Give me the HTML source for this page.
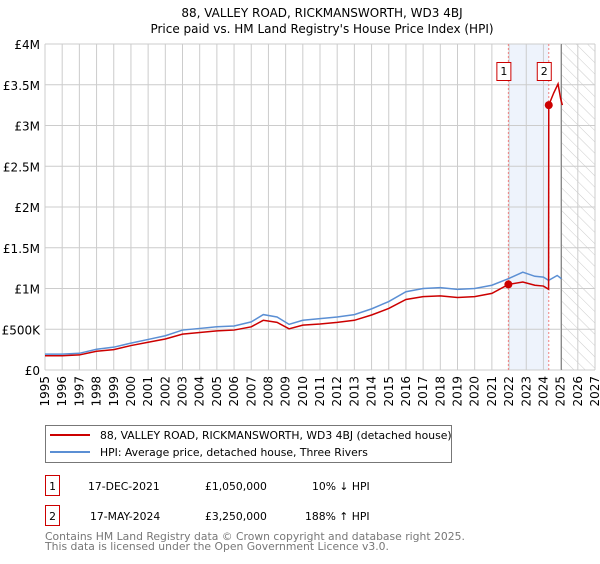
<!DOCTYPE html>
<html><head><meta charset="utf-8"><style>
body{margin:0;background:#fff;font-family:"DejaVu Sans","Liberation Sans",sans-serif;}
svg text{font-family:"DejaVu Sans","Liberation Sans",sans-serif;}
</style></head><body>
<svg id="c" width="600" height="560" xmlns="http://www.w3.org/2000/svg">
<defs><pattern id="h" width="8" height="8" patternUnits="userSpaceOnUse" patternTransform="rotate(-45)"><line x1="0" y1="0" x2="0" y2="8" stroke="#ccc" stroke-width="1"/></pattern></defs>
<text x="322" y="17" text-anchor="middle" font-size="12">88, VALLEY ROAD, RICKMANSWORTH, WD3 4BJ</text>
<text x="322" y="33" text-anchor="middle" font-size="12">Price paid vs. HM Land Registry's House Price Index (HPI)</text>
<g id="grid"></g><g id="marks"></g><g id="axes"></g>
<rect x="45.5" y="425.5" width="406" height="37" fill="#fff" stroke="#777"/>
<line x1="50" y1="435" x2="90" y2="435" stroke="#cc0000" stroke-width="2"/>
<text x="100" y="439" font-size="10.8">88, VALLEY ROAD, RICKMANSWORTH, WD3 4BJ (detached house)</text>
<line x1="50" y1="452" x2="90" y2="452" stroke="#5b8fd4" stroke-width="2"/>
<text x="100" y="456" font-size="10.8">HPI: Average price, detached house, Three Rivers</text>
<g font-size="10.8">
<rect x="45.5" y="475.5" width="14" height="20" fill="none" stroke="#c00"/>
<text x="52.5" y="490" text-anchor="middle">1</text>
<text x="88" y="490">17-DEC-2021</text><text x="205" y="490">£1,050,000</text><text x="312" y="490">10% ↓ HPI</text>
<rect x="45.5" y="505.5" width="14" height="20" fill="none" stroke="#c00"/>
<text x="52.5" y="520" text-anchor="middle">2</text>
<text x="90" y="520">17-MAY-2024</text><text x="205" y="520">£3,250,000</text><text x="305" y="520">188% ↑ HPI</text>
</g>
<text x="45" y="540" font-size="10.8" fill="#777">Contains HM Land Registry data © Crown copyright and database right 2025.</text>
<text x="45" y="550" font-size="10.8" fill="#777">This data is licensed under the Open Government Licence v3.0.</text>
</svg>
<script>
const years=[1995,1996,1997,1998,1999,2000,2001,2002,2003,2004,2005,2006,2007,2007.7,2008.5,2009.2,2010,2011,2012,2013,2014,2015,2016,2017,2018,2019,2020,2021,2021.96,2022.8,2023.5,2024,2024.3];
const hpi=[195,195,205,255,280,330,375,420,490,510,530,540,590,680,650,560,610,630,650,680,750,840,960,1000,1010,990,1000,1040,1120,1200,1150,1140,1100];
const priceYears=[1995,1996,1997,1998,1999,2000,2001,2002,2003,2004,2005,2006,2007,2007.7,2008.5,2009.2,2010,2011,2012,2013,2014,2015,2016,2017,2018,2019,2020,2021,2021.96,2022.8,2023.5,2024,2024.3,2024.31,2024.6,2024.85,2025.0,2025.1];
const price=[175,175,185,230,250,300,340,380,440,460,480,490,530,610,585,505,550,565,585,610,675,755,865,900,910,890,900,940,1050,1080,1040,1030,990,3250,3400,3510,3330,3250];
const hpiTail=[[2024.3,1100],[2024.8,1160],[2025.05,1120]];
const sales=[[2021.96,1050,"1"],[2024.31,3250,"2"]];
const yTicks=[0,500,1000,1500,2000,2500,3000,3500,4000];
const yLabels=["£0","£500K","£1M","£1.5M","£2M","£2.5M","£3M","£3.5M","£4M"];
const xTicks=[1995,1996,1997,1998,1999,2000,2001,2002,2003,2004,2005,2006,2007,2008,2009,2010,2011,2012,2013,2014,2015,2016,2017,2018,2019,2020,2021,2022,2023,2024,2025,2026,2027];
const X=y=>45+(y-1995)*(550/32), Y=v=>370-v*(326/4000);
const ns="http://www.w3.org/2000/svg";
function mk(p,t,a){const e=document.createElementNS(ns,t);for(const k in a)e.setAttribute(k,a[k]);p.appendChild(e);return e;}
const g=document.getElementById('grid'),m=document.getElementById('marks'),ax=document.getElementById('axes');
let r=mk(g,'rect',{x:X(2021.96),y:Y(4000),width:X(2024.31)-X(2021.96),height:Y(0)-Y(4000),fill:'#eef3fc'});


r=mk(g,'rect',{x:X(2025.05),y:Y(4000),width:X(2027)-X(2025.05),height:Y(0)-Y(4000),fill:'url(#h)'});


yTicks.forEach((v,i)=>{const l=mk(g,'line',{x1:45,x2:X(2027),y1:Y(v),y2:Y(v),stroke:'#ccc'});


const t=mk(ax,'text',{x:40,y:Y(v)+5,'text-anchor':'end','font-size':12});t.textContent=yLabels[i];

});
xTicks.forEach(v=>{const l=mk(g,'line',{x1:X(v),x2:X(v),y1:Y(0),y2:Y(4000),stroke:'#ccc'});


const t=mk(ax,'text',{transform:`translate(${X(v)+4},${Y(0)+6}) rotate(-90)`,'text-anchor':'end','font-size':12});t.textContent=v;

});
let l=mk(g,'line',{x1:X(2025.05),x2:X(2025.05),y1:Y(0),y2:Y(4000),stroke:'#888'});


sales.forEach(s=>{const d=mk(g,'line',{x1:X(s[0]),x2:X(s[0]),y1:Y(0),y2:Y(4000),stroke:'#f08080','stroke-dasharray':'2,2'});

});
const hp=years.map((y,i)=>[y,hpi[i]]).concat(hpiTail.slice(1));
let p=mk(m,'polyline',{points:hp.map(a=>X(a[0])+','+Y(a[1])).join(' '),fill:'none',stroke:'#5b8fd4','stroke-width':1.5});


p=mk(m,'polyline',{points:priceYears.map((y,i)=>X(y)+','+Y(price[i])).join(' '),fill:'none',stroke:'#cc0000','stroke-width':1.5});


sales.forEach(s=>{const c=mk(m,'circle',{cx:X(s[0]),cy:Y(s[1]),r:4,fill:'#cc0000'});


const b=mk(m,'rect',{x:X(s[0])-11.5,y:62.5,width:14,height:18,fill:'#fff',stroke:'#c00'});


const t=mk(m,'text',{x:X(s[0])-4.5,y:75,'text-anchor':'middle','font-size':11});t.textContent=s[2];

});
</script>
</body></html>
